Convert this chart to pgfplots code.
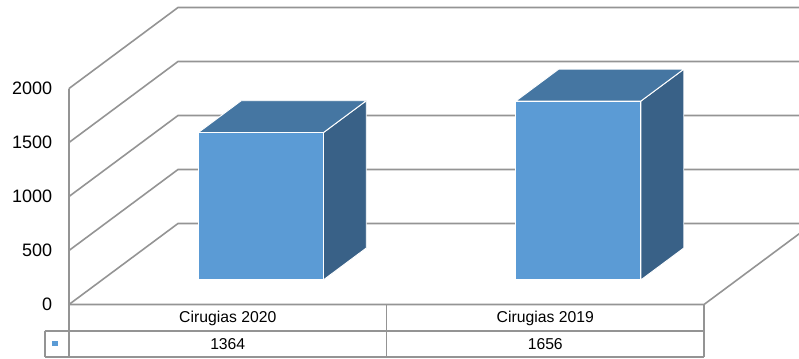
\documentclass[border=0pt]{standalone}
\usepackage{pgfplots}
\pgfplotsset{compat=1.18}
\usepackage{fontspec}
\setmainfont{Liberation Sans}
\definecolor{cfront}{RGB}{91,155,213}
\definecolor{ctop}{RGB}{69,118,162}
\definecolor{cside}{RGB}{57,97,135}
\definecolor{cgrid}{RGB}{148,148,148}
\begin{document}
\begin{tikzpicture}
\begin{axis}[
  x={(238.125pt,0pt)}, y={(81.75pt,60.75pt)}, z={(0pt,0.081pt)},
  xmin=0,xmax=2,ymin=0,ymax=1,zmin=0,zmax=2000,
  hide axis, clip=false,
]
\coordinate (O) at (axis cs:0,0,0);
% walls grid
\pgfplotsinvokeforeach{0,500,1000,1500,2000}{
  \draw[cgrid, line width=1.2pt] (axis cs:0,0,#1) -- (axis cs:0,1,#1) -- (axis cs:2,1,#1);
  \node[anchor=east, inner sep=0pt, font=\fontsize{13.5}{16}\selectfont] at ([xshift=-12.5pt]axis cs:0,0,#1) {#1};
}
% floor and axis
\draw[cgrid, line width=1.2pt] (axis cs:0,0,2000) -- (axis cs:0,0,0) -- (axis cs:2,0,0) -- (axis cs:2,1,0);
% bars
\addplot3[fill=cside, draw=white, line width=0.7pt] coordinates {(0.697,0.303,0) (0.697,0.697,0) (0.697,0.697,1364) (0.697,0.303,1364)} -- cycle;
\addplot3[fill=ctop, draw=white, line width=0.7pt] coordinates {(0.303,0.303,1364) (0.697,0.303,1364) (0.697,0.697,1364) (0.303,0.697,1364)} -- cycle;
\addplot3[fill=cfront, draw=white, line width=0.7pt] coordinates {(0.303,0.303,0) (0.697,0.303,0) (0.697,0.303,1364) (0.303,0.303,1364)} -- cycle;
\addplot3[fill=cside, draw=white, line width=0.7pt] coordinates {(1.697,0.303,0) (1.697,0.697,0) (1.697,0.697,1656) (1.697,0.303,1656)} -- cycle;
\addplot3[fill=ctop, draw=white, line width=0.7pt] coordinates {(1.303,0.303,1656) (1.697,0.303,1656) (1.697,0.697,1656) (1.303,0.697,1656)} -- cycle;
\addplot3[fill=cfront, draw=white, line width=0.7pt] coordinates {(1.303,0.303,0) (1.697,0.303,0) (1.697,0.303,1656) (1.303,0.303,1656)} -- cycle;
% data table
\draw[cgrid, line width=1.1pt] (axis cs:-0.0756,0,-245) -- (axis cs:2,0,-245);
\draw[cgrid, line width=1.1pt] (axis cs:-0.0756,0,-486) -- (axis cs:2,0,-486);
\draw[cgrid, line width=1.1pt] (axis cs:-0.0756,0,-245) -- (axis cs:-0.0756,0,-486);
\draw[cgrid, line width=1.1pt] (axis cs:0,0,0) -- (axis cs:0,0,-486);
\draw[cgrid, line width=1.1pt] (axis cs:1,0,0) -- (axis cs:1,0,-486);
\draw[cgrid, line width=1.1pt] (axis cs:2,0,0) -- (axis cs:2,0,-486);
\fill[cfront] ([shift={(-2pt,-2pt)}]axis cs:-0.044,0,-360) rectangle ([shift={(2pt,2pt)}]axis cs:-0.044,0,-360);
\node[font=\fontsize{11.8}{14}\selectfont] at (axis cs:0.5,0,-125) {Cirugias 2020};
\node[font=\fontsize{11.8}{14}\selectfont] at (axis cs:1.5,0,-125) {Cirugias 2019};
\node[font=\fontsize{11.8}{14}\selectfont] at (axis cs:0.5,0,-366) {1364};
\node[font=\fontsize{11.8}{14}\selectfont] at (axis cs:1.5,0,-366) {1656};
\end{axis}
\pgfresetboundingbox
\path[use as bounding box] ([shift={(-51.75pt,-40.125pt)}]O) rectangle ([shift={(547.5pt,228.375pt)}]O);
\end{tikzpicture}
\end{document}
